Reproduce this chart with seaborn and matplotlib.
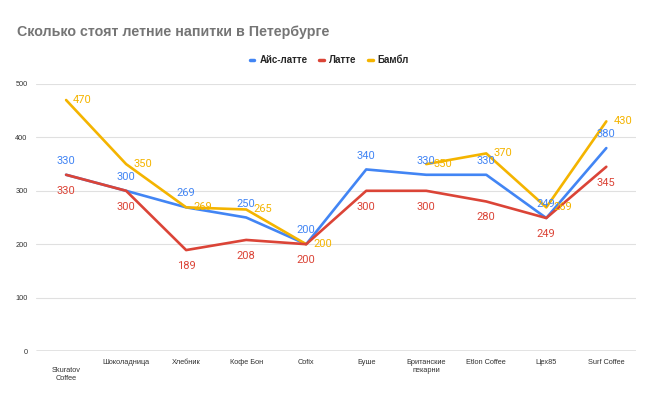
import numpy as np
import pandas as pd
import seaborn as sns
import matplotlib.pyplot as plt

shops = ["Skuratov\nCoffee", "Шоколадница", "Хлебник", "Кофе Бон", "Cofix", "Буше",
         "Британские\nпекарни", "Etlon Coffee", "Цех85", "Surf Coffee"]
ice_latte = [330, 300, 269, 250, 200, 340, 330, 330, 249, 380]
latte = [330, 300, 189, 208, 200, 300, 300, 280, 249, 345]
bumble = [470, 350, 269, 265, 200, np.nan, 350, 370, 269, 430]
series_names = ["Айс-латте", "Латте", "Бамбл"]
colors = ["#4285F4", "#DB4437", "#F4B400"]

sns.set_theme(style="white")
plt.rcParams['font.family'] = ['Roboto', 'DejaVu Sans']
arial = ['Liberation Sans', 'DejaVu Sans']

rows = []
for name, vals in zip(series_names, [ice_latte, latte, bumble]):
    seg = 0
    for i, v in enumerate(vals):
        if np.isnan(v):
            seg += 1
            continue
        rows.append({"pos": i, "price": v, "drink": name, "seg": seg})
df = pd.DataFrame(rows)

fig = plt.figure(figsize=(6.56, 4.05), dpi=100)
ax = fig.add_axes([0.055, 0.1333, 0.915, 0.6593])

# Латте drawn last so it sits over Айс-латте where they coincide
order = ["Айс-латте", "Бамбл", "Латте"]
for name in order:
    sub = df[df["drink"] == name]
    sns.lineplot(data=sub, x="pos", y="price", units="seg", estimator=None,
                 color=colors[series_names.index(name)], linewidth=1.9, ax=ax,
                 legend=False)

for i in range(len(shops)):
    ax.annotate(str(ice_latte[i]), (i, ice_latte[i]), xytext=(0, 10),
                textcoords="offset points", ha="center", va="center",
                color=colors[0], fontsize=8)
    ax.annotate(str(latte[i]), (i, latte[i]), xytext=(0, -11.5),
                textcoords="offset points", ha="center", va="center",
                color=colors[1], fontsize=8)
    if not np.isnan(bumble[i]):
        ax.annotate(str(int(bumble[i])), (i, bumble[i]), xytext=(5, 0),
                    textcoords="offset points", ha="left", va="center",
                    color=colors[2], fontsize=8)

ax.set_xlim(-0.5, len(shops) - 0.5)
ax.set_ylim(0, 500)
ax.set_yticks([0, 100, 200, 300, 400, 500])
ax.set_xticks(range(len(shops)))
labels = list(shops)
labels[0] = "\n" + labels[0]
ax.set_xticklabels(labels, fontsize=5.3, color="#333333", family=arial)
ax.set_yticklabels([str(t) for t in [0, 100, 200, 300, 400, 500]], fontsize=5.3,
                   color="#333333", family=arial)
ax.tick_params(axis="both", length=0)
ax.tick_params(axis="y", pad=6)
ax.tick_params(axis="x", pad=6)
ax.grid(axis="y", color="#e0e0e0", linewidth=0.8)
ax.axhline(0, color="#333333", linewidth=0.9)
for s in ax.spines.values():
    s.set_visible(False)
ax.set_xlabel("")
ax.set_ylabel("")

fig.text(0.026, 1 - 32 / 405, "Сколько стоят летние напитки в Петербурге",
         fontsize=10.3, fontweight="bold", color="#757575", va="center", ha="left",
         family=arial)

handles = [plt.Line2D([], [], color=c, linewidth=2.5) for c in colors]
fig.legend(handles, series_names, loc="center", bbox_to_anchor=(0.502, 1 - 60 / 405),
           ncol=3, frameon=False, handlelength=0.5, handletextpad=0.5,
           columnspacing=1.2, prop={"size": 7, "weight": "bold", "family": arial})

fig.savefig("out.png", dpi=100)
